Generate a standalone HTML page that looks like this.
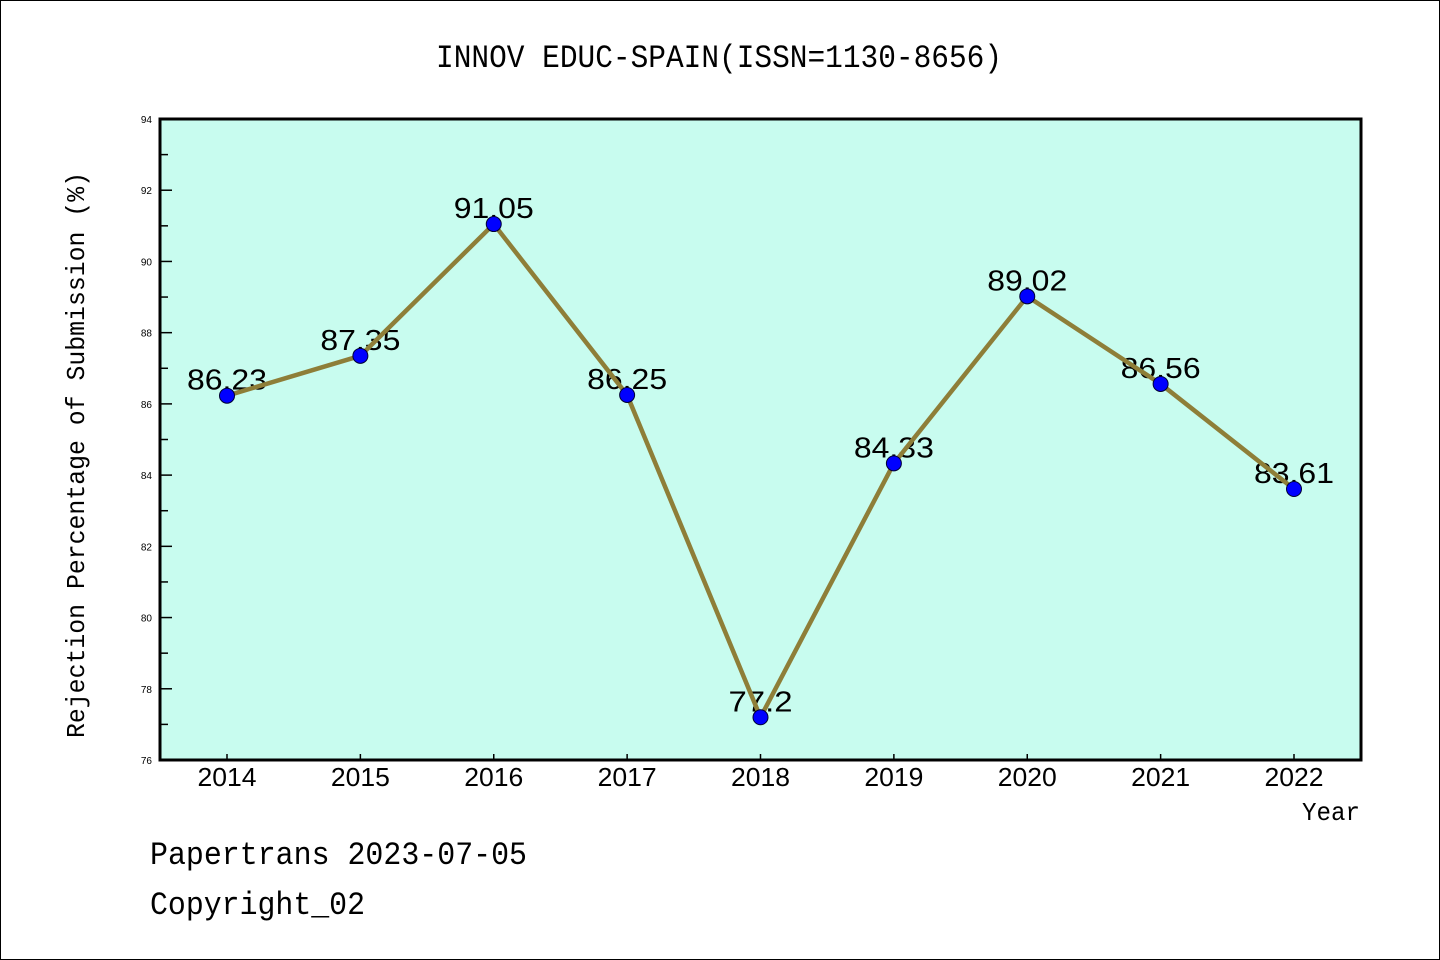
<!DOCTYPE html>
<html><head><meta charset="utf-8"><style>
html,body{margin:0;padding:0;background:#fff}
svg{display:block}
text{font-family:"Liberation Sans","DejaVu Sans",sans-serif}
.mono{font-family:"Liberation Mono","DejaVu Sans Mono",monospace}
</style></head><body>
<svg id="chart" width="1440" height="960" viewBox="0 0 1440 960" xmlns="http://www.w3.org/2000/svg">
<rect x="0.5" y="0.5" width="1439" height="959" fill="#fff" stroke="#000" stroke-width="1"/>
<text class="mono" x="719" y="67" font-size="32" text-anchor="middle" textLength="566" lengthAdjust="spacingAndGlyphs">INNOV EDUC-SPAIN(ISSN=1130-8656)</text>
<rect x="160" y="119" width="1201" height="641" fill="#c8fcef"/>
<g id="yticks"></g><g id="xticks"></g>
<g id="labels"></g>
<polyline id="line" fill="none" stroke="#8e7e38" stroke-width="4.5" stroke-linejoin="round"/>
<g id="points"></g>
<rect x="160" y="119" width="1201" height="641" fill="none" stroke="#000" stroke-width="3"/>
<text class="mono" x="0" y="0" font-size="26" text-anchor="middle" transform="translate(84,455) rotate(-90)" textLength="566" lengthAdjust="spacingAndGlyphs">Rejection Percentage of Submission (%)</text>
<text class="mono" x="1331" y="820" font-size="26" text-anchor="middle" textLength="58" lengthAdjust="spacingAndGlyphs">Year</text>
<text class="mono" x="150" y="864" font-size="32" textLength="377" lengthAdjust="spacingAndGlyphs">Papertrans 2023-07-05</text>
<text class="mono" x="150" y="914" font-size="32" textLength="215" lengthAdjust="spacingAndGlyphs">Copyright_02</text>
</svg>
<script>
const categories=["2014","2015","2016","2017","2018","2019","2020","2021","2022"];
const values=[86.23,87.35,91.05,86.25,77.2,84.33,89.02,86.56,83.61];
const valueLabels=["86.23","87.35","91.05","86.25","77.2","84.33","89.02","86.56","83.61"];
const yTicks=[76,78,80,82,84,86,88,90,92,94];
const yMin=76,yMax=94;
const NS="http://www.w3.org/2000/svg";
const L=160,R=1361,T=119,B=760;
function y(v){return B-(v-yMin)/(yMax-yMin)*(B-T);}
function x(i){return 227+i*(1294-227)/(categories.length-1);}
function mk(tag,attrs,parent){const e=document.createElementNS(NS,tag);for(const k in attrs)e.setAttribute(k,attrs[k]);parent.appendChild(e);return e;}
const yt=document.getElementById('yticks');
yTicks.forEach((v,i)=>{
  const t=mk('line',{x1:L,x2:L+12,y1:y(v),y2:y(v),stroke:'#000','stroke-width':1.5},yt);
  
  
  const lb=mk('text',{x:152,y:y(v)+4,'font-size':10,'text-anchor':'end'},yt);
  lb.textContent=v;
  
  
  if(i<yTicks.length-1){
    const m=mk('line',{x1:L,x2:L+8,y1:y(v+1),y2:y(v+1),stroke:'#000','stroke-width':1.5},yt);
    
    
  }
});
const xt=document.getElementById('xticks');
categories.forEach((c,i)=>{
  const t=mk('line',{x1:x(i),x2:x(i),y1:B,y2:B-6,stroke:'#000','stroke-width':1.5},xt);
  
  
  const lb=mk('text',{x:x(i),y:786,'font-size':26,'text-anchor':'middle',textLength:59,lengthAdjust:'spacingAndGlyphs'},xt);
  lb.textContent=c;
  
  
});
const lg=document.getElementById('labels');
values.forEach((v,i)=>{
  const s=valueLabels[i];
  const lb=mk('text',{x:x(i),y:y(v)-6,'font-size':29,'text-anchor':'middle',textLength:s.length*16,lengthAdjust:'spacingAndGlyphs'},lg);
  lb.textContent=s;
  
  
});
document.getElementById('line').setAttribute('points',values.map((v,i)=>x(i)+','+y(v)).join(' '));
const pg=document.getElementById('points');
values.forEach((v,i)=>{
  const c=mk('circle',{cx:x(i),cy:y(v),r:7.5,fill:'#0000ff',stroke:'#000033','stroke-width':1},pg);
  
  
});
</script>
</body></html>
